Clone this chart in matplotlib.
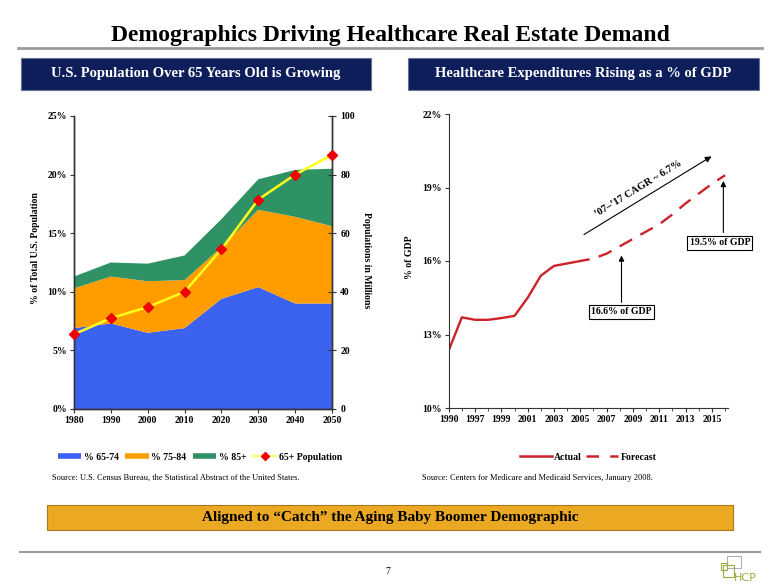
import matplotlib.pyplot as plt
import matplotlib.patches as mpatches
import matplotlib.lines as mlines

plt.rcParams['font.family'] = ['Liberation Serif', 'DejaVu Serif']

W, H = 780, 587

# Left chart: share of US population by age band (%), and 65+ population (millions)
years = [1980, 1990, 2000, 2010, 2020, 2030, 2040, 2050]
pct_65_74 = [6.9, 7.3, 6.5, 6.9, 9.4, 10.4, 9.0, 9.0]
pct_75_84 = [3.4, 4.0, 4.4, 4.1, 4.4, 6.6, 7.4, 6.6]
pct_85_plus = [1.0, 1.2, 1.5, 2.1, 2.4, 2.6, 4.0, 4.9]
pop_65_plus = [25.5, 31.0, 34.8, 40.0, 54.5, 71.5, 80.0, 86.7]

# Right chart: healthcare expenditures as % of GDP
gdp_years = [1990, 1996, 1997, 1998, 1999, 2000, 2001, 2002, 2003, 2004, 2005,
             2006, 2007, 2008, 2009, 2010, 2011, 2012, 2013, 2014, 2015, 2016]
gdp_actual = [12.35, 13.7, 13.6, 13.6, 13.67, 13.76, 14.5, 15.4, 15.8, 15.9, 16.0]
gdp_forecast = [16.0, 16.1, 16.3, 16.6, 16.9, 17.2, 17.5, 17.9, 18.35, 18.75, 19.15, 19.5]
gdp_labels = ['1990', '1997', '1999', '2001', '2003', '2005', '2007', '2009', '2011', '2013', '2015']

BLUE = '#3B63F0'
ORANGE = '#FF9C00'
GREEN = '#2F9264'
RED = '#CC2229'
NAVY = '#0E1E5B'
GOLD = '#EBA823'


def fx(x):
    return x / W


def fy(y):
    return 1 - y / H


fig = plt.figure(figsize=(W / 100, H / 100), dpi=100)

############################################################################
# Page furniture
############################################################################
fig.text(fx(390), fy(35), 'Demographics Driving Healthcare Real Estate Demand',
         ha='center', va='center', fontsize=17, weight='bold')
fig.add_artist(mlines.Line2D([fx(18), fx(762)], [fy(48), fy(48)], color='#9A9A9A', lw=2))

for x0, x1, label in [(21, 371, 'U.S. Population Over 65 Years Old is Growing'),
                      (408, 759, 'Healthcare Expenditures Rising as a % of GDP')]:
    fig.patches.append(mpatches.Rectangle((fx(x0), fy(90)), (x1 - x0) / W, 32 / H,
                                          transform=fig.transFigure, facecolor=NAVY,
                                          edgecolor='#6A7396', lw=0.8))
    fig.text(fx((x0 + x1) / 2), fy(74), label, ha='center', va='center',
             color='white', fontsize=10.5, weight='bold')

############################################################################
# Left chart - stacked areas + population line
############################################################################
ax1 = fig.add_axes([fx(74), fy(409), 258 / W, 293 / H])
ax1.stackplot(years, pct_65_74, pct_75_84, pct_85_plus,
              colors=[BLUE, ORANGE, GREEN], lw=0)
ax1.set_xlim(1980, 2050)
ax1.set_ylim(0, 25)
ax1.set_xticks(years)
ax1.set_yticks([0, 5, 10, 15, 20, 25])
ax1.set_yticklabels(['0%', '5%', '10%', '15%', '20%', '25%'])

ax2 = ax1.twinx()
ax2.plot(years, pop_65_plus, color='#FFFF1A', lw=1.8, marker='D', markersize=5,
         markerfacecolor='#F00000', markeredgecolor='#F00000', clip_on=False, zorder=5)
ax2.set_ylim(0, 100)
ax2.set_yticks([0, 20, 40, 60, 80, 100])

for a in (ax1, ax2):
    a.spines['top'].set_visible(False)
    for s in a.spines.values():
        s.set_color('#333333')
        s.set_linewidth(1.0)
ax1.tick_params(axis='both', labelsize=7, length=3, width=0.8, pad=2, colors='#333333',
                labelcolor='black')
ax2.tick_params(axis='y', labelsize=7, length=6, width=0.8, pad=3, direction='inout',
                colors='#333333', labelcolor='black')
for lab in ax1.get_xticklabels() + ax1.get_yticklabels() + ax2.get_yticklabels():
    lab.set_fontweight('bold')

fig.text(fx(36), fy(248), '% of Total U.S. Population', rotation=90,
         ha='center', va='center', fontsize=7, weight='bold')
fig.text(fx(366), fy(260), 'Populations in Millions', rotation=270,
         ha='center', va='center', fontsize=7, weight='bold')

h_left = [mlines.Line2D([], [], color=BLUE, lw=4, solid_capstyle='butt'),
          mlines.Line2D([], [], color=ORANGE, lw=4, solid_capstyle='butt'),
          mlines.Line2D([], [], color=GREEN, lw=4, solid_capstyle='butt'),
          mlines.Line2D([], [], color='#FFFF66', lw=1.5, marker='D', markersize=4,
                        markerfacecolor='#F00000', markeredgecolor='#F00000')]
fig.legend(h_left, ['% 65-74', '% 75-84', '% 85+', '65+ Population'],
           loc='center', bbox_to_anchor=(fx(200), fy(457)), ncol=4, frameon=False,
           prop={'size': 7, 'weight': 'bold'}, handlelength=2.4,
           handletextpad=0.25, columnspacing=0.7, borderpad=0)

fig.text(fx(52), fy(478), 'Source: U.S. Census Bureau, the Statistical Abstract of the United States.',
         ha='left', va='center', fontsize=6)

############################################################################
# Right chart - healthcare spend % of GDP
############################################################################
ax3 = fig.add_axes([fx(448.7), fy(408), 279 / W, 294 / H])
idx = list(range(len(gdp_years)))
n_act = len(gdp_actual)
ax3.plot(idx[:n_act], gdp_actual, color=RED, lw=1.7)
ax3.plot(idx[n_act - 1:], gdp_forecast, color=RED, lw=1.7, linestyle=(2, (6, 4)))
ax3.set_xlim(0, 21.2)
ax3.set_ylim(10, 22)
ax3.set_yticks([10, 13, 16, 19, 22])
ax3.set_yticklabels(['10%', '13%', '16%', '19%', '22%'])
ax3.set_xticks(idx[::2])
ax3.set_xticklabels(gdp_labels)
ax3.set_xticks(idx, minor=True)
ax3.spines['top'].set_visible(False)
ax3.spines['right'].set_visible(False)
for s in ax3.spines.values():
    s.set_color('#333333')
ax3.tick_params(axis='both', labelsize=7, length=3, width=0.8, pad=2, colors='#333333',
                labelcolor='black')
ax3.tick_params(axis='x', which='minor', length=2, width=0.6, colors='#333333')
for lab in ax3.get_xticklabels() + ax3.get_yticklabels():
    lab.set_fontweight('bold')

fig.text(fx(410), fy(257), '% of GDP', rotation=90, ha='center', va='center',
         fontsize=7, weight='bold')

# CAGR arrow
ax3.annotate('', xy=(20.15, 20.33), xytext=(10.1, 17.02),
             arrowprops=dict(arrowstyle='-|>', color='black', lw=0.8, mutation_scale=9))
ax3.text(14.45, 18.95, '\u201907\u2013\u201917 CAGR ~ 6.7%', rotation=31.5,
         rotation_mode='anchor', ha='center', va='center', fontsize=7.5, weight='bold')

# callouts
box = dict(boxstyle='square,pad=0.25', facecolor='white', edgecolor='black', lw=0.8)
ax3.annotate('', xy=(13.13, 16.34), xytext=(13.13, 14.2),
             arrowprops=dict(arrowstyle='-|>', color='black', lw=0.8, mutation_scale=8))
ax3.text(13.13, 13.92, '16.6% of GDP', ha='center', va='center', fontsize=7,
         weight='bold', bbox=box)
ax3.annotate('', xy=(20.87, 19.38), xytext=(20.87, 17.05),
             arrowprops=dict(arrowstyle='-|>', color='black', lw=0.8, mutation_scale=8))
ax3.text(20.6, 16.75, '19.5% of GDP', ha='center', va='center', fontsize=7,
         weight='bold', bbox=box, clip_on=False)

h_right = [mlines.Line2D([], [], color=RED, lw=1.8),
           mlines.Line2D([], [], color=RED, lw=1.8, linestyle=(0, (5, 4.5)))]
fig.legend(h_right, ['Actual', 'Forecast'], loc='center',
           bbox_to_anchor=(fx(588), fy(457)), ncol=2, frameon=False,
           prop={'size': 7, 'weight': 'bold'}, handlelength=3.3,
           handletextpad=0.2, columnspacing=0.5, borderpad=0)

fig.text(fx(422), fy(478), 'Source: Centers for Medicare and Medicaid Services, January 2008.',
         ha='left', va='center', fontsize=6)

############################################################################
# Bottom banner, footer
############################################################################
fig.patches.append(mpatches.Rectangle((fx(47), fy(530)), 686 / W, 25 / H,
                                      transform=fig.transFigure, facecolor=GOLD,
                                      edgecolor='#A8791A', lw=0.8))
fig.text(fx(390), fy(517), 'Aligned to \u201cCatch\u201d the Aging Baby Boomer Demographic',
         ha='center', va='center', fontsize=11, weight='bold')

fig.add_artist(mlines.Line2D([fx(20), fx(760)], [fy(552), fy(552)], color='#9A9A9A', lw=1.5))
fig.text(fx(388), fy(572), '7', ha='center', va='center', fontsize=7)

# HCP logo
for (x0, y0, x1, y1, c) in [(727, 556, 741, 568, '#B0B0B0'),
                            (723, 565, 734, 577, '#9BAA3C'),
                            (721, 563, 727, 570, '#9BAA3C')]:
    fig.patches.append(mpatches.Rectangle((fx(x0), fy(y1)), (x1 - x0) / W, (y1 - y0) / H,
                                          transform=fig.transFigure, facecolor='none',
                                          edgecolor=c, lw=0.8))
fig.text(fx(745), fy(578), 'HCP', ha='center', va='center', fontsize=8,
         color='#9BAA3C', family='DejaVu Sans')

fig.savefig('out.png', dpi=100)
